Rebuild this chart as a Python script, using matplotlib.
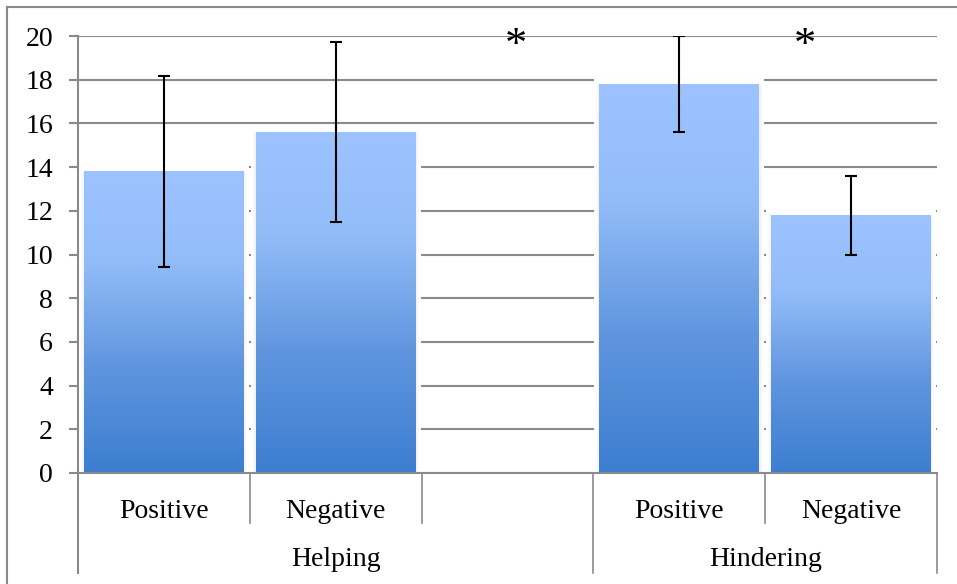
import numpy as np
import matplotlib.pyplot as plt
from matplotlib.colors import LinearSegmentedColormap
from matplotlib.patches import Rectangle
from matplotlib.lines import Line2D
import matplotlib.transforms as mtransforms

# data
conditions = ['Positive', 'Negative', '', 'Positive', 'Negative']
groups = ['Helping', 'Hindering']
group_spans = [(0, 3), (3, 5)]          # slots covered by each group label
means = [13.8, 15.6, np.nan, 17.8, 11.8]
errors = [4.37, 4.13, np.nan, 2.2, 1.8]
star_x = [2.05, 3.73]
star_y = [20.0, 20.0]
yticks = list(range(0, 21, 2))

grey = '#8a8a8a'
plt.rcParams['font.family'] = ['Liberation Serif', 'DejaVu Serif']

fig = plt.figure(figsize=(9.57, 5.84), dpi=100)
W, H = 957, 584
ax = fig.add_axes([78 / W, 1 - 473 / H, (937 - 78) / W, (473 - 36) / H])

x = np.arange(len(conditions))
width = 0.93

bar_cmap = LinearSegmentedColormap.from_list(
    'excel', [(0.0, '#3d7ed0'), (0.35, '#5f95de'), (0.7, '#92bcf8'), (1.0, '#9dc3ff')])

bars = ax.bar(x, np.nan_to_num(means), width, color='none', zorder=3)
grad = np.linspace(0, 1, 256).reshape(-1, 1)
px_x = 1 / 171.8     # data units per pixel horizontally
px_y = 20 / 437      # data units per pixel vertically
for b, m in zip(bars, means):
    if np.isnan(m):
        continue
    x0, w, h = b.get_x(), b.get_width(), b.get_height()
    # soft glow / shadow around the bar like Excel
    ax.add_patch(Rectangle((x0 - 5 * px_x, 0), w + 10 * px_x, h + 5 * px_y,
                           facecolor='white', edgecolor='none', zorder=1.5))
    for k, a in [(3, 0.04), (1.5, 0.06)]:
        ax.add_patch(Rectangle((x0 - k * px_x, 0), w + 2 * k * px_x, h + 0.3 * k * px_y,
                               facecolor='#808080', alpha=a, edgecolor='none', zorder=1.6))
    ax.imshow(grad, extent=(x0, x0 + w, 0, h), origin='lower', cmap=bar_cmap,
              aspect='auto', zorder=2, interpolation='bilinear')

ax.errorbar(x, means, yerr=errors, fmt='none', ecolor='black', elinewidth=1.5,
            capsize=4.3, capthick=1.5, zorder=4)

for sx, sy in zip(star_x, star_y):
    ax.annotate('*', (sx, sy), xytext=(0, -7), textcoords='offset points',
                ha='center', va='center', fontsize=32, zorder=5)

ax.set_xlim(-0.5, len(conditions) - 0.5)
ax.set_ylim(0, 20)
ax.set_yticks(yticks)
ax.set_xticks([])
ax.yaxis.grid(True, color=grey, linewidth=1.5)
ax.set_axisbelow(True)
for s in ['top', 'right', 'bottom', 'left']:
    ax.spines[s].set_visible(False)
ax.tick_params(axis='y', length=6.5, width=1.5, color=grey, pad=11.5, labelsize=20)

# category axis: left line, separators and labels
trans = mtransforms.blended_transform_factory(ax.transData, ax.transAxes)
lvl1 = -50 / 437
lvl2 = -100 / 437
ax.add_line(Line2D([-0.5, -0.5], [1, lvl2], transform=trans, color=grey, lw=1.5, clip_on=False))
ax.add_line(Line2D([-0.5, 4.5], [0, 0], transform=trans, color=grey, lw=1.5, clip_on=False, zorder=2.5))
for i in range(1, len(conditions) + 1):
    edge = i - 0.5
    is_group = any(edge == g1 - 0.5 for _, g1 in group_spans)
    ax.add_line(Line2D([edge, edge], [0, lvl2 if is_group else lvl1], transform=trans,
                       color=grey, lw=1.2, clip_on=False))
for i, c in enumerate(conditions):
    ax.text(i, -38 / 437, c, transform=trans, ha='center', va='center', fontsize=20)
for g, (g0, g1) in zip(groups, group_spans):
    ax.text((g0 + g1 - 1) / 2, -87 / 437, g, transform=trans, ha='center', va='center', fontsize=20)

# outer chart border (left and top only visible)
fig.add_artist(Line2D([7 / W, 7 / W], [0, 1 - 7 / H], color=grey, lw=1.5))
fig.add_artist(Line2D([7 / W, 1], [1 - 7 / H, 1 - 7 / H], color=grey, lw=1.5))

fig.savefig('out.png', dpi=100)
